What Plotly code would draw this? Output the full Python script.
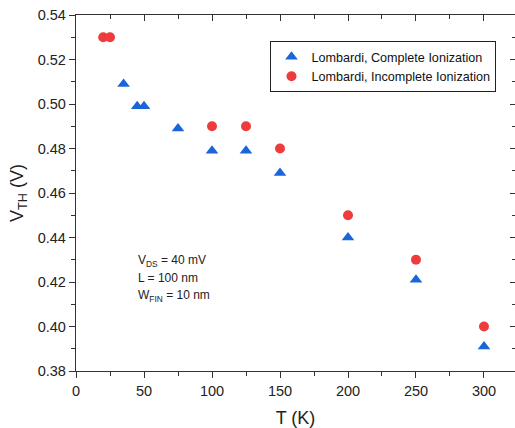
import plotly.graph_objects as go

# Data
t_complete = [35, 45, 50, 75, 100, 125, 150, 200, 250, 300]
v_complete = [0.509, 0.499, 0.499, 0.489, 0.479, 0.479, 0.469, 0.440, 0.421, 0.391]
t_incomplete = [20, 25, 100, 125, 150, 200, 250, 300]
v_incomplete = [0.530, 0.530, 0.490, 0.490, 0.480, 0.450, 0.430, 0.400]
x_ticks = [0, 50, 100, 150, 200, 250, 300]
y_ticks = [0.38, 0.40, 0.42, 0.44, 0.46, 0.48, 0.50, 0.52, 0.54]
notes = ["V<sub>DS</sub> = 40 mV", "L = 100 nm", "W<sub>FIN</sub> = 10 nm"]

BLUE = "#1a66d8"
RED = "#ee3b3b"
FONT = "Liberation Sans, Arial, sans-serif"
XR = [0, 322.8]
YR = [0.38, 0.54]

fig = go.Figure()
fig.add_trace(go.Scatter(x=t_complete, y=v_complete, mode="markers",
                         name="Lombardi, Complete Ionization",
                         marker=dict(symbol="triangle-up", size=11, color=BLUE)))
fig.add_trace(go.Scatter(x=t_incomplete, y=v_incomplete, mode="markers",
                         name="Lombardi, Incomplete Ionization",
                         marker=dict(symbol="circle", size=10, color=RED)))
fig.add_trace(go.Scatter(x=[None], y=[None], xaxis="x2", yaxis="y2", showlegend=False,
                         hoverinfo="skip", mode="markers"))

axfont = dict(family=FONT, size=14.5, color="#222")
common = dict(showgrid=False, zeroline=False, linecolor="#333", linewidth=1.3,
              tickcolor="#333", tickwidth=1.2, tickfont=axfont)

fig.update_layout(
    width=515, height=428,
    margin=dict(l=76, r=0, t=15, b=57),
    paper_bgcolor="white", plot_bgcolor="white",
    font=dict(family=FONT, color="#222"),
    xaxis=dict(range=XR, tickvals=x_ticks, ticks="outside", ticklen=6,
               minor=dict(dtick=25, tick0=0, ticks="outside", ticklen=4,
                          tickcolor="#333"),
               showline=True,
               title=dict(text="T (K)", font=dict(family=FONT, size=18), standoff=14),
               **common),
    yaxis=dict(range=YR, tickvals=y_ticks, tickformat=".2f", ticks="outside",
               ticklen=6,
               minor=dict(dtick=0.01, tick0=0.38, ticks="outside", ticklen=4,
                          tickcolor="#333"),
               showline=True,
               title=dict(text="V<sub>TH</sub> (V)", font=dict(family=FONT, size=18),
                          standoff=9),
               **common),
    xaxis2=dict(range=XR, overlaying="x", side="top", tickvals=x_ticks,
                ticks="inside", ticklen=6, showticklabels=False,
                minor=dict(dtick=25, tick0=0, ticks="inside", ticklen=4,
                           tickcolor="#333"),
                showline=True, **common),
    yaxis2=dict(range=YR, overlaying="y", side="right", tickvals=y_ticks,
                ticks="inside", ticklen=5, showticklabels=False,
                minor=dict(dtick=0.01, tick0=0.38, ticks="inside", ticklen=3,
                           tickcolor="#333"),
                showline=False, **common),
    legend=dict(x=0.443, y=0.855, xanchor="left", yanchor="middle",
                bordercolor="#222", borderwidth=1, bgcolor="white",
                font=dict(family=FONT, size=12.6, color="#111"),
                tracegroupgap=0, itemwidth=30),
    showlegend=True,
)

for i, txt in enumerate(notes):
    fig.add_annotation(x=44, y=0.4294 - i * 0.0078, xref="x", yref="y",
                       text=txt, showarrow=False, xanchor="left", yanchor="middle",
                       font=dict(family=FONT, size=12, color="#222"))

fig.write_html("out.html")
